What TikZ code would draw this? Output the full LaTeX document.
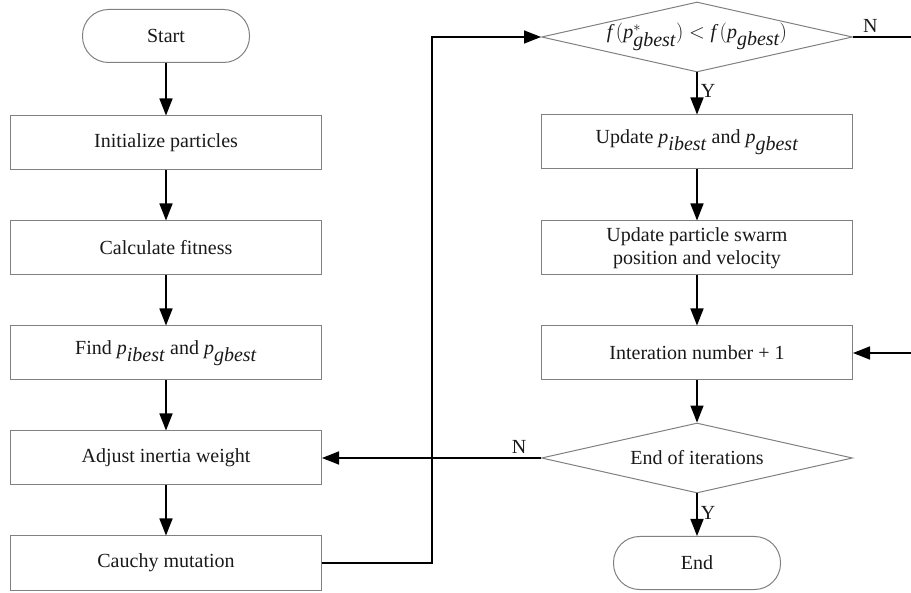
\documentclass[tikz,border=0pt]{standalone}
\usepackage{fontspec}
\setmainfont{Liberation Serif}
\usetikzlibrary{shapes.geometric,arrows.meta}
\begin{document}
\begin{tikzpicture}[x=1pt,y=-1pt,
  font=\fontsize{20}{23}\selectfont,
  box/.style={draw=black!50,line width=1pt,minimum width=311pt,minimum height=54pt,inner sep=0pt,text=black!90,align=center},
  term/.style={draw=black!50,line width=1pt,minimum width=167pt,minimum height=53pt,rounded corners=26pt,inner sep=0pt,text=black!90},
  dec/.style={draw=black!50,line width=1pt,shape=diamond,aspect=4.44,minimum width=311pt,minimum height=70pt,inner sep=0pt,text=black!90},
  conn/.style={line width=1.5pt,-{Triangle[length=17pt,width=13pt]}},
  plain/.style={line width=1.5pt},
  lab/.style={text=black!90,inner sep=0pt}]
\useasboundingbox (0,0) rectangle (911,593);
% left column
\node[term] (start) at (166,36) {Start};
\node[box] (init) at (166,143) {Initialize particles};
\node[box] (calc) at (166,248) {Calculate fitness};
\node[box] (find) at (166,353) {Find $\textit{p}_{\textit{ibest}}$ and $\textit{p}_{\textit{gbest}}$};
\node[box] (adj) at (166,458) {Adjust inertia weight};
\node[box] (cau) at (166,563) {Cauchy mutation};
% right column
\node[dec] (d1) at (697,37) {$\textit{f}\,(\textit{p}^{*}_{\textit{gbest}}) < \textit{f}\,(\textit{p}_{\textit{gbest}})$};
\node[box] (upd) at (697,142) {Update $\textit{p}_{\textit{ibest}}$ and $\textit{p}_{\textit{gbest}}$};
\node[box] (sw) at (697,248) {Update particle swarm\\position and velocity};
\node[box] (it) at (697,353) {Interation number + 1};
\node[dec] (d2) at (697,458) {End of iterations};
\node[term] (end) at (697,563) {End};
\coordinate (r1) at (911,37);
\coordinate (r2) at (911,353);
\coordinate (k) at (432,563);
% connectors
\draw[conn] (start) -- (init);
\draw[conn] (init) -- (calc);
\draw[conn] (calc) -- (find);
\draw[conn] (find) -- (adj);
\draw[conn] (adj) -- (cau);
\draw[conn] (cau.east) -- (k) |- (d1.west);
\draw[conn] (d1) -- node[lab,right,xshift=3pt,pos=0.45]{Y} (upd);
\draw[conn] (upd) -- (sw);
\draw[conn] (sw) -- (it);
\draw[conn] (it) -- (d2);
\draw[conn] (d2) -- node[lab,right,xshift=3pt,pos=0.45]{Y} (end);
\draw[conn] (d2.west) -- node[lab,above,pos=0.1,yshift=4pt]{N} (adj.east);
\draw[plain] (d1.east) -- node[lab,above,pos=0.3,yshift=4pt]{N} (r1);
\draw[conn] (r2) -- (it.east);
\end{tikzpicture}
\end{document}
